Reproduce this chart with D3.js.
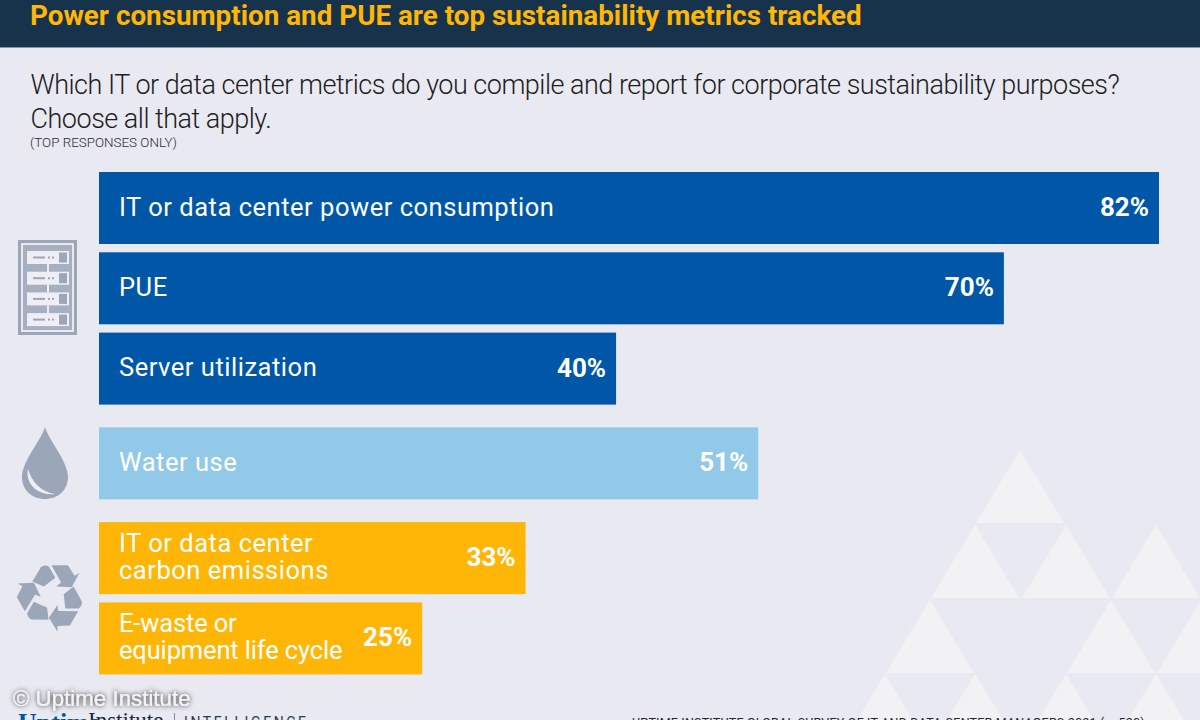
<!DOCTYPE html>
<html>
<head>
<meta charset="utf-8">
<script src="https://cdn.jsdelivr.net/npm/d3@7"></script>
<style>
  html, body { margin: 0; padding: 0; background: #e9e9f2; overflow: hidden; }
  svg { display: block; font-family: Roboto, sans-serif; }
</style>
</head>
<body>
<div id="chart"></div>
<script>
// chart values
var categories = [
    ["IT or data center power consumption"],
    ["PUE"],
    ["Server utilization"],
    ["Water use"],
    ["IT or data center", "carbon emissions"],
    ["E-waste or", "equipment life cycle"]
];
var values = [82, 70, 40, 51, 33, 25];
var groups = ["power", "power", "power", "water", "waste", "waste"];
var groupNames = ["power", "water", "waste"];
var groupColors = ["#0057a8", "#92c9e8", "#ffb607"];

var titleText = "Power consumption and PUE are top sustainability metrics tracked";
var questionLines = [
    "Which IT or data center metrics do you compile and report for corporate sustainability purposes?",
    "Choose all that apply."
];
var noteText = "(TOP RESPONSES ONLY)";
var sourceText = "UPTIME INSTITUTE GLOBAL SURVEY OF IT AND DATA CENTER MANAGERS 2021 (n=520)";
var iconColor = "#9ba6b9";

var w = 1200;
var h = 720;

var svg = d3.select("#chart").append("svg")
    .attr("width", w)
    .attr("height", h);

var defs = svg.append("defs");
var glow = defs.append("filter").attr("id", "glow")
    .attr("x", "-10%").attr("y", "-40%").attr("width", "120%").attr("height", "180%");
glow.append("feGaussianBlur").attr("in", "SourceAlpha").attr("stdDeviation", 2.4).attr("result", "b");
glow.append("feFlood").attr("flood-color", "#000").attr("flood-opacity", 0.9);
glow.append("feComposite").attr("in2", "b").attr("operator", "in").attr("result", "s");
var merge = glow.append("feMerge");
merge.append("feMergeNode").attr("in", "s");
merge.append("feMergeNode").attr("in", "SourceGraphic");

svg.append("rect").attr("width", w).attr("height", h).attr("fill", "#e9e9f2");

// background triangles, rows of a triangular grid
var triRows = [
    { top: 450, xs: [1020] },
    { top: 525, xs: [975, 1066, 1156] },
    { top: 600, xs: [930, 1111, 1201] },
    { top: 674, xs: [885, 975, 1066, 1156] }
];
var triPath = d3.line();
triRows.forEach(function (row) {
    row.xs.forEach(function (x) {
        svg.append("path")
            .attr("d", triPath([[x, row.top], [x + 44, row.top + 73], [x - 44, row.top + 73]]) + "Z")
            .attr("fill", "#f2f2f4");
    });
});

// header band
svg.append("rect").attr("width", w).attr("height", 47).attr("fill", "#17324b");
svg.append("rect").attr("y", 47).attr("width", w).attr("height", 1).attr("fill", "#8595a8");
svg.append("text")
    .attr("x", 30).attr("y", 25)
    .attr("font-size", 27.8).attr("font-weight", 700)
    .attr("fill", "#ffb607")
    .text(titleText);

// question
svg.selectAll("text.question")
    .data(questionLines)
    .enter().append("text")
    .attr("class", "question")
    .attr("x", 30.5)
    .attr("y", function (d, i) { return 94 + i * 33.5; })
    .attr("font-size", 27).attr("font-weight", 300)
    .attr("letter-spacing", -0.5)
    .attr("fill", "#1d1d22")
    .text(function (d) { return d; });

svg.append("text")
    .attr("x", 30).attr("y", 147)
    .attr("font-size", 13.4).attr("font-weight", 300)
    .attr("fill", "#2b2b33")
    .text(noteText);

// scales
var x = d3.scaleLinear().domain([0, 82]).range([99, 1159]);
var slot = d3.scaleLinear().domain([0, 1]).range([172, 252.3]);
var color = d3.scaleOrdinal().domain(groupNames).range(groupColors);
var barHeight = 72;

function barTop(i) {
    return slot(i + groupNames.indexOf(groups[i]) * 0.18);
}

var bars = svg.selectAll("g.bar")
    .data(values)
    .enter().append("g")
    .attr("class", "bar")
    .attr("transform", function (d, i) { return "translate(0," + barTop(i) + ")"; });

bars.append("rect")
    .attr("x", x(0))
    .attr("width", function (d) { return x(d) - x(0); })
    .attr("height", barHeight)
    .attr("fill", function (d, i) { return color(groups[i]); });

bars.each(function (d, i) {
    var lines = categories[i];
    var g = d3.select(this);
    lines.forEach(function (line, j) {
        g.append("text")
            .attr("x", 119)
            .attr("y", barHeight / 2 + 7.5 + (j - (lines.length - 1) / 2) * 27)
            .attr("font-size", 25.5)
            // last label is set tighter in the original
            .attr("letter-spacing", i === 5 ? -0.15 : 0.52)
            .attr("fill", "#fff")
            .text(line);
    });
});

bars.append("text")
    .attr("x", function (d) { return x(d) - 10; })
    .attr("y", barHeight / 2 + 8)
    .attr("text-anchor", "end")
    .attr("font-size", 26)
    .attr("font-weight", 700)
    .attr("fill", "#fff")
    .text(function (d) { return d + "%"; });

// server icon
var server = svg.append("g").attr("transform", "translate(18,240)");
server.append("rect").attr("x", 1.5).attr("y", 1.5).attr("width", 56).attr("height", 92)
    .attr("fill", "none").attr("stroke", iconColor).attr("stroke-width", 3);
server.append("rect").attr("x", 5).attr("y", 5).attr("width", 49).attr("height", 85)
    .attr("fill", iconColor).attr("opacity", 0.85);
d3.range(4).forEach(function (i) {
    var row = server.append("g").attr("transform", "translate(9," + (11 + i * 20.7) + ")");
    row.append("rect").attr("width", 42).attr("height", 13).attr("fill", "#eeeef4");
    row.append("rect").attr("x", 32).attr("y", 1.5).attr("width", 8).attr("height", 10).attr("fill", iconColor);
    row.append("rect").attr("x", 6).attr("y", 5.5).attr("width", 12).attr("height", 2).attr("fill", iconColor);
    row.append("rect").attr("x", 21).attr("y", 5.5).attr("width", 2).attr("height", 2).attr("fill", iconColor);
    row.append("rect").attr("x", 25).attr("y", 5.5).attr("width", 2).attr("height", 2).attr("fill", iconColor);
    if (i < 3) {
        row.append("rect").attr("x", 20).attr("y", 13).attr("width", 2).attr("height", 8).attr("fill", "#eeeef4");
    }
});

// water drop icon
var drop = svg.append("g").attr("transform", "translate(45,427)");
drop.append("path")
    .attr("d", "M0,0 C4,14 23,34 23,50 C23,63 13,72 0,72 C-13,72 -23,63 -23,50 C-23,34 -4,14 0,0Z")
    .attr("fill", iconColor);
drop.append("path")
    .attr("d", "M-17,42 C-20,56 -8,69 10,67 C-3,65 -13,56 -17,42Z")
    .attr("fill", "#eeeef4");

// recycle icon, one arrow pair turned three times
var recycle = svg.append("g").attr("transform", "translate(51.5,596) scale(0.96)");
d3.range(3).forEach(function (i) {
    var a = recycle.append("g").attr("transform", "rotate(" + (i * 120) + ")");
    a.append("path")
        .attr("d", "M-20,-15 L-11,-30 Q-8,-33 -3,-31 L4,-19 L-8,-10Z")
        .attr("fill", iconColor);
    a.append("path")
        .attr("d", "M0,-32 L17,-32 L24,-21 L29,-24 L21,-9 L5,-10 L10,-14Z")
        .attr("fill", iconColor);
});

// footer, clipped by the bottom of the frame in the original
svg.append("text")
    .attr("x", 18).attr("y", 731)
    .attr("font-family", "Liberation Serif, serif")
    .attr("font-size", 26)
    .attr("font-weight", 700)
    .attr("fill", "#0057a8")
    .text("Uptime");
svg.append("text")
    .attr("x", 88).attr("y", 728)
    .attr("font-family", "Liberation Serif, serif")
    .attr("font-size", 23)
    .attr("fill", "#1a2a3a")
    .text("Institute");
svg.append("rect").attr("x", 174).attr("y", 713).attr("width", 1).attr("height", 7).attr("fill", "#8a8a95");
svg.append("text")
    .attr("x", 184).attr("y", 727)
    .attr("font-size", 14).attr("letter-spacing", 2.6)
    .attr("fill", "#2b3a4b")
    .text("INTELLIGENCE");
svg.append("text")
    .attr("x", 632).attr("y", 727)
    .attr("font-size", 12.5)
    .attr("letter-spacing", 0.2)
    .attr("fill", "#26262e")
    .text(sourceText);

// copyright overlay
svg.append("text")
    .attr("x", 13).attr("y", 706)
    .attr("font-family", "Liberation Sans, Arial, sans-serif")
    .attr("font-size", 22.3)
    .attr("fill", "#f4f4f4")
    .attr("filter", "url(#glow)")
    .text("© Uptime Institute");
</script>
</body>
</html>
